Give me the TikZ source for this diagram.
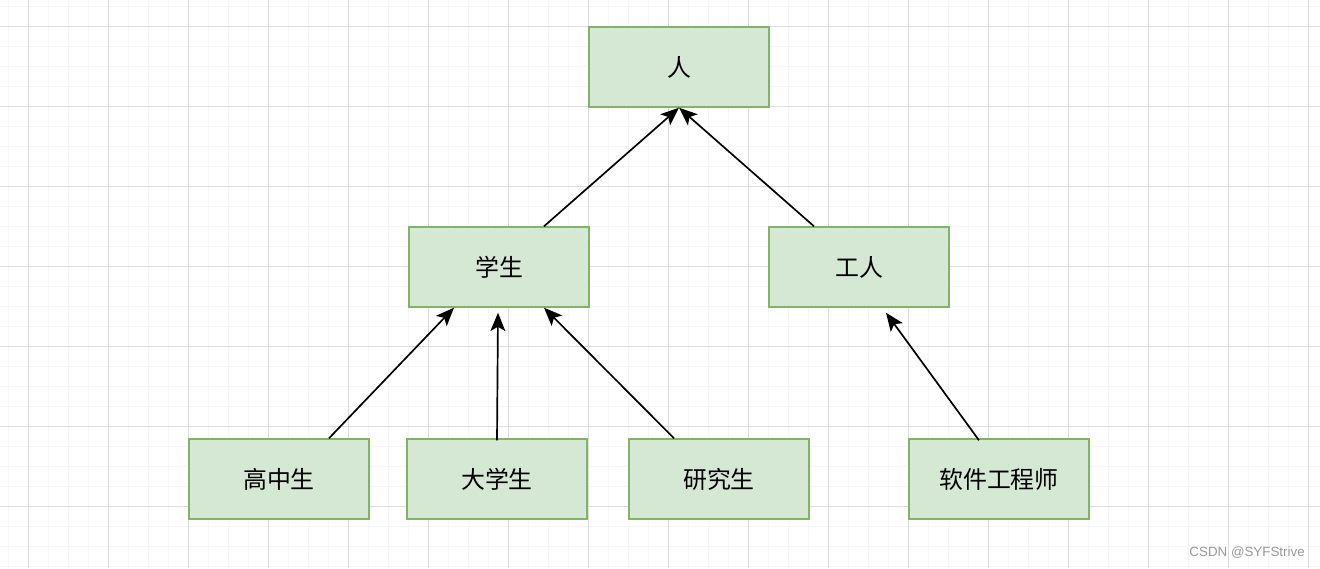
\documentclass[tikz,border=0pt]{standalone}
\usepackage{fontspec}
\setmainfont{Noto Sans CJK SC}
\newfontfamily\markfont{Liberation Sans}
\definecolor{d_fill}{HTML}{D5E8D4}
\definecolor{d_line}{HTML}{82B366}
\definecolor{g_major}{HTML}{DDDDDD}
\definecolor{g_minor}{HTML}{F6F6F6}
\usetikzlibrary{arrows.meta}

\begin{document}
\begin{tikzpicture}[
        x=0.025cm, y=-0.025cm,
        every node/.style={font=\fontsize{17}{20}\selectfont},
        cls/.style={fill=d_fill,draw=d_line,line width=1pt,minimum width=4.5cm,minimum height=2cm,inner sep=0pt},
        inherit/.style={-{Stealth[length=13pt,width=10.5pt,inset=3pt]},line width=1.2pt}
    ]
        \useasboundingbox[fill=white] (0,0) rectangle (1320,568);
        % background grid
        \foreach \x in {8,28,...,1320} \draw[g_minor,line width=0.5pt] (\x,0) -- (\x,568);
        \foreach \y in {6,26,...,568} \draw[g_minor,line width=0.5pt] (0,\y) -- (1320,\y);
        \foreach \x in {28,108,...,1320} \draw[g_major,line width=0.6pt] (\x,0) -- (\x,568);
        \foreach \y in {26,106,...,568} \draw[g_major,line width=0.6pt] (0,\y) -- (1320,\y);

        \node[cls] (ren) at (679,67) {人};
        \node[cls] (xuesheng) at (499,267) {学生};
        \node[cls] (gongren) at (859,267) {工人};
        \node[cls] (gaozhong) at (279,479) {高中生};
        \node[cls] (daxue) at (497,479) {大学生};
        \node[cls] (yanjiu) at (719,479) {研究生};
        \node[cls] (ruanjian) at (999,479) {软件工程师};

        \draw[inherit] ([shift={(45,0)}]xuesheng.north) -- (ren.south);
        \draw[inherit] ([shift={(-45,0)}]gongren.north) -- (ren.south);
        \draw[inherit] ([shift={(50,0)}]gaozhong.north) -- ([shift={(-45,0)}]xuesheng.south);
        \draw[inherit] ([shift={(0,2)}]daxue.north) -- ([shift={(-1,5)}]xuesheng.south);
        \draw[inherit] ([shift={(-45,0)}]yanjiu.north) -- ([shift={(45,0)}]xuesheng.south);
        \draw[inherit] ([shift={(-20,2)}]ruanjian.north) -- ([shift={(27,5)}]gongren.south);

        \node[font=\markfont\fontsize{9.5}{11}\selectfont,text=black!40,anchor=east,inner sep=0pt] (mark) at (1305,553) {CSDN @SYFStrive};
    \end{tikzpicture}
\end{document}
